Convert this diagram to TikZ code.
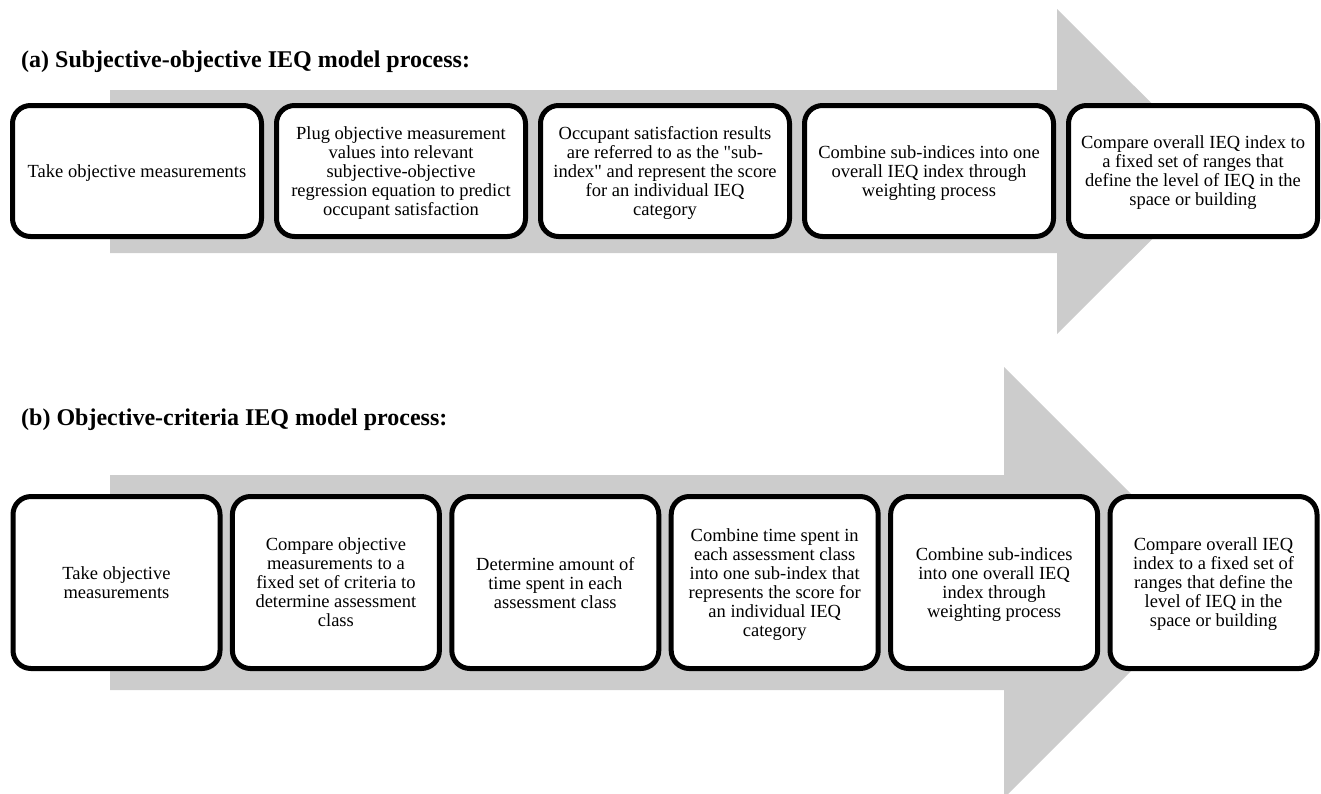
\documentclass[tikz,border=0pt]{standalone}
\usepackage{fontspec}
\setmainfont{Liberation Serif}[Ligatures=TeXOff]
\usetikzlibrary{positioning}
\definecolor{arrowgray}{RGB}{204,204,204}

\begin{document}
\begin{tikzpicture}[x=1pt, y=-1pt,
    stepA/.style={draw, line width=5pt, rounded corners=18pt, fill=white,
      minimum width=249pt, minimum height=131pt, align=center, inner sep=0pt,
      text depth=0pt, font=\fontsize{18.5}{19}\selectfont},
    stepB/.style={stepA, minimum width=207pt, minimum height=172pt},
    heading/.style={anchor=base west, inner sep=0pt,
      font=\fontsize{24}{26}\selectfont\bfseries}]
    \useasboundingbox (0,0) rectangle (1321,793);

    % big gray arrows behind the steps
    \fill[arrowgray] (110,90) -- (1057,90) -- (1057,9) -- (1220,171.5)
        -- (1057,334) -- (1057,253) -- (110,253) -- cycle;
    \fill[arrowgray] (110,475) -- (1004,475) -- (1004,367) -- (1219.5,582.5)
        -- (1004,798) -- (1004,690) -- (110,690) -- cycle;

    % (a)
    \node [heading]                 (ha) at (21,67) {(a) Subjective-objective IEQ model process:};
    \node [stepA]                   (A1) at (137,171) {Take objective measurements};
    \node [stepA, right=10pt of A1] (A2) {Plug objective measurement\\values into relevant\\subjective-objective\\regression equation to predict\\occupant satisfaction};
    \node [stepA, right=10pt of A2] (A3) {Occupant satisfaction results\\are referred to as the "sub-\\index" and represent the score\\for an individual IEQ\\category};
    \node [stepA, right=10pt of A3] (A4) {Combine sub-indices into one\\overall IEQ index through\\weighting process};
    \node [stepA, right=10pt of A4] (A5) {Compare overall IEQ index to\\a fixed set of ranges that\\define the level of IEQ in the\\space or building};

    % (b)
    \node [heading]                  (hb) at (21,425) {(b) Objective-criteria IEQ model process:};
    \node [stepB]                    (B1) at (116.5,582.5) {Take objective\\measurements};
    \node [stepB, right=7.4pt of B1] (B2) {Compare objective\\measurements to a\\fixed set of criteria to\\determine assessment\\class};
    \node [stepB, right=7.4pt of B2] (B3) {Determine amount of\\time spent in each\\assessment class};
    \node [stepB, right=7.4pt of B3] (B4) {Combine time spent in\\each assessment class\\into one sub-index that\\represents the score for\\an individual IEQ\\category};
    \node [stepB, right=7.4pt of B4] (B5) {Combine sub-indices\\into one overall IEQ\\index through\\weighting process};
    \node [stepB, right=7.4pt of B5] (B6) {Compare overall IEQ\\index to a fixed set of\\ranges that define the\\level of IEQ in the\\space or building};
\end{tikzpicture}
\end{document}
